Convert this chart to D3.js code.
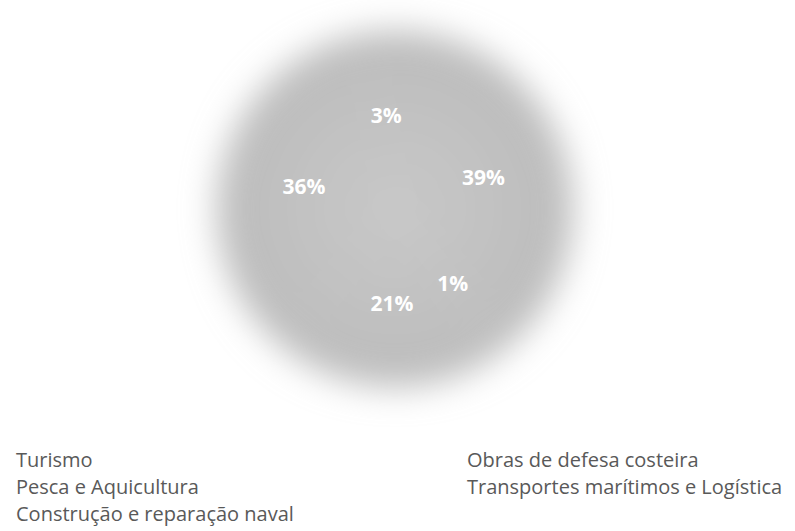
<!DOCTYPE html>
<html>
<head>
<meta charset="utf-8">
<script src="https://cdn.jsdelivr.net/npm/d3@7"></script>
<style>
  html, body { margin: 0; padding: 0; background: #ffffff; }
  svg { display: block; }
</style>
</head>
<body>
<div id="chart"></div>
<script>
// Sector shares of the maritime economy (percent)
const categories = [
  "Turismo",
  "Pesca e Aquicultura",
  "Construção e reparação naval",
  "Obras de defesa costeira",
  "Transportes marítimos e Logística"
];
const shares = [39, 1, 21, 36, 3];
const labels = ["39%", "1%", "21%", "36%", "3%"];

const width = 795, height = 531;
const cx = 395, cy = 209, radius = 178, labelRadius = 94;

const svg = d3.select("#chart").append("svg")
  .attr("width", width)
  .attr("height", height);

const defs = svg.append("defs");

// soft edge around the whole pie
defs.append("filter")
  .attr("id", "soft")
  .attr("x", "-30%").attr("y", "-30%")
  .attr("width", "160%").attr("height", "160%")
  .append("feGaussianBlur")
  .attr("stdDeviation", 17);

// slices share one fill, slightly lighter toward the middle
const grad = defs.append("radialGradient")
  .attr("id", "sliceFill")
  .attr("gradientUnits", "userSpaceOnUse")
  .attr("cx", 0).attr("cy", 0).attr("r", radius);
grad.append("stop").attr("offset", "0%").attr("stop-color", "#c8c8c8");
grad.append("stop").attr("offset", "100%").attr("stop-color", "#bcbcbc");

const data = categories.map((c, i) => ({ name: c, value: shares[i], label: labels[i] }));

const pie = d3.pie().value(d => d.value).sort(null);
const arcs = pie(data);

const arc = d3.arc().innerRadius(0).outerRadius(radius);
const labelArc = d3.arc().innerRadius(labelRadius).outerRadius(labelRadius);

const g = svg.append("g").attr("transform", `translate(${cx},${cy})`);

g.append("g")
  .attr("filter", "url(#soft)")
  .selectAll("path")
  .data(arcs)
  .join("path")
  .attr("d", arc)
  .attr("fill", "url(#sliceFill)");

g.selectAll("text.pct")
  .data(arcs)
  .join("text")
  .attr("class", "pct")
  .attr("transform", d => `translate(${labelArc.centroid(d)})`)
  .attr("text-anchor", "middle")
  .attr("dominant-baseline", "central")
  .attr("font-family", "'Open Sans', sans-serif")
  .attr("font-weight", "bold")
  .attr("font-size", 21)
  .attr("fill", "#ffffff")
  .text(d => d.data.label);

// legend: two columns, first three entries left, remaining two right
const legendCols = [16, 467];
const legendTop = 467, legendStep = 27;
const legend = svg.append("g")
  .attr("font-family", "'Open Sans', sans-serif")
  .attr("font-size", 20)
  .attr("fill", "#595959");

legend.selectAll("text")
  .data(data)
  .join("text")
  .attr("x", (d, i) => legendCols[i < 3 ? 0 : 1])
  .attr("y", (d, i) => legendTop + (i < 3 ? i : i - 3) * legendStep)
  .text(d => d.name);
</script>
</body>
</html>
